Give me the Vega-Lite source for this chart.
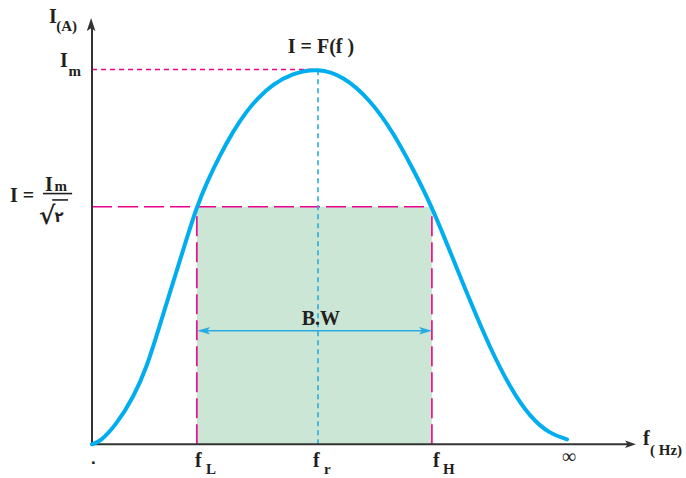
{
  "$schema": "https://vega.github.io/schema/vega-lite/v6.json",
  "width": 686,
  "height": 478,
  "padding": 0,
  "autosize": {"type": "fit", "contains": "padding"},
  "background": "white",
  "config": {"view": {"stroke": null}},
  "datasets": {
    "curve": [
      {"f": 0, "I": 0}, {"f": 3.54, "I": 0.6}, {"f": 10.93, "I": 5.38}, {"f": 18.27, "I": 12.47},
      {"f": 24.2, "I": 20.42}, {"f": 30.09, "I": 31.91}, {"f": 35.97, "I": 43.42}, {"f": 41.9, "I": 54.9},
      {"f": 46.4, "I": 63.4}, {"f": 50.75, "I": 69.8}, {"f": 56.64, "I": 77.2}, {"f": 62.52, "I": 83.63},
      {"f": 68.45, "I": 88.94}, {"f": 73.58, "I": 92.49}, {"f": 79.6, "I": 95.9}, {"f": 88.5, "I": 99.0},
      {"f": 100, "I": 100.4}, {"f": 111.1, "I": 98.3}, {"f": 123.0, "I": 92.0}, {"f": 133.2, "I": 83.3},
      {"f": 142.0, "I": 73.5}, {"f": 150.4, "I": 63.4}, {"f": 158.4, "I": 51.5}, {"f": 167.3, "I": 38.2},
      {"f": 176.1, "I": 25.7}, {"f": 185.0, "I": 15.1}, {"f": 193.8, "I": 7.2}, {"f": 202.7, "I": 2.7},
      {"f": 210.2, "I": 1.3}
    ],
    "band": [{"f1": 46.4, "f2": 150.4, "I1": 0, "I2": 63.4}],
    "imLine": [{"f1": 0, "f2": 100, "I1": 100, "I2": 100}],
    "halfLines": [
      {"f1": 0, "f2": 150.4, "I1": 63.4, "I2": 63.4},
      {"f1": 46.4, "f2": 46.4, "I1": 0, "I2": 63.4},
      {"f1": 150.4, "f2": 150.4, "I1": 0, "I2": 63.4}
    ],
    "frLine": [{"f1": 100, "f2": 100, "I1": 0, "I2": 100}],
    "axes": [
      {"f1": 0, "f2": 238.5, "I1": 0, "I2": 0},
      {"f1": 0, "f2": 0, "I1": 0, "I2": 112}
    ],
    "bw": [{"f1": 49.4, "f2": 147.6, "I1": 30.3, "I2": 30.3}],
    "bwHeads": [{"f": 49.4, "I": 30.3, "dir": "left"}, {"f": 147.6, "I": 30.3, "dir": "right"}],
    "yHead": [{"f": -0.4, "I": 112.0}],
    "xHead": [{"f": 238.3, "I": 0}],
    "fracBars": [
      {"f1": -21.7, "f2": -8.8, "I1": 66.9, "I2": 66.9},
      {"f1": -17.6, "f2": -10.6, "I1": 65.2, "I2": 65.2}
    ],
    "bigText": [
      {"t": "I", "f": -19.0, "I": 112.5},
      {"t": "I", "f": -14.2, "I": 100.8},
      {"t": "I =", "f": -36.3, "I": 64.7},
      {"t": "I", "f": -20.8, "I": 67.6},
      {"t": "f", "f": 45.6, "I": -6.1},
      {"t": "f", "f": 97.8, "I": -6.1},
      {"t": "f", "f": 150.9, "I": -6.1},
      {"t": "f", "f": 243.8, "I": -0.3}
    ],
    "rootText": [{"t": "√", "f": -23.4, "I": 58.8}],
    "centerText": [
      {"t": "I = F(f )", "f": 101.3, "I": 104.5},
      {"t": "B.W", "f": 101.3, "I": 31.8}
    ],
    "smallText": [
      {"t": "(A)", "f": -15.8, "I": 110.3},
      {"t": "m", "f": -10.4, "I": 98.4},
      {"t": "m", "f": -16.6, "I": 67.6},
      {"t": "L", "f": 50.4, "I": -8.0},
      {"t": "r", "f": 102.7, "I": -8.0},
      {"t": "H", "f": 155.3, "I": -8.0},
      {"t": "( Hz)", "f": 246.9, "I": -2.9}
    ],
    "persian": [
      {"t": "۲", "f": -16.6, "I": 59.4},
      {"t": "۰", "f": -1.4, "I": -6.0}
    ],
    "infText": [{"t": "∞", "f": 211.0, "I": -5.0}]
  },
  "layer": [
    {
      "data": {"name": "band"},
      "mark": {"type": "rect", "color": "#cce6d5"},
      "encoding": {
        "x": {"field": "f1", "type": "quantitative", "axis": null, "scale": {"domain": [-40.71, 262.83], "nice": false, "zero": false}},
        "x2": {"field": "f2"},
        "y": {"field": "I1", "type": "quantitative", "axis": null, "scale": {"domain": [-8.22, 118.57], "nice": false, "zero": false}},
        "y2": {"field": "I2"}
      }
    },
    {
      "data": {"name": "imLine"},
      "mark": {"type": "rule", "color": "#ec008c", "strokeWidth": 1.5, "strokeDash": [5, 4]},
      "encoding": {
        "x": {"field": "f1", "type": "quantitative"}, "x2": {"field": "f2"},
        "y": {"field": "I1", "type": "quantitative"}, "y2": {"field": "I2"}
      }
    },
    {
      "data": {"name": "halfLines"},
      "mark": {"type": "rule", "color": "#ec008c", "strokeWidth": 1.6, "strokeDash": [20, 6]},
      "encoding": {
        "x": {"field": "f1", "type": "quantitative"}, "x2": {"field": "f2"},
        "y": {"field": "I1", "type": "quantitative"}, "y2": {"field": "I2"}
      }
    },
    {
      "data": {"name": "frLine"},
      "mark": {"type": "rule", "color": "#29abe2", "strokeWidth": 1.6, "strokeDash": [5, 4]},
      "encoding": {
        "x": {"field": "f1", "type": "quantitative"}, "x2": {"field": "f2"},
        "y": {"field": "I1", "type": "quantitative"}, "y2": {"field": "I2"}
      }
    },
    {
      "data": {"name": "bw"},
      "mark": {"type": "rule", "color": "#29abe2", "strokeWidth": 1.6},
      "encoding": {
        "x": {"field": "f1", "type": "quantitative"}, "x2": {"field": "f2"},
        "y": {"field": "I1", "type": "quantitative"}, "y2": {"field": "I2"}
      }
    },
    {
      "data": {"name": "bwHeads"},
      "mark": {"type": "point", "filled": true, "color": "#29abe2", "opacity": 1, "size": 169, "strokeWidth": 0},
      "encoding": {
        "x": {"field": "f", "type": "quantitative"},
        "y": {"field": "I", "type": "quantitative"},
        "shape": {"field": "dir", "type": "nominal", "legend": null,
          "scale": {"domain": ["left", "right"], "range": ["M-1,0L1,0.57L0.55,0L1,-0.57Z", "M1,0L-1,0.57L-0.55,0L-1,-0.57Z"]}}
      }
    },
    {
      "data": {"name": "axes"},
      "mark": {"type": "rule", "color": "#333333", "strokeWidth": 2},
      "encoding": {
        "x": {"field": "f1", "type": "quantitative"}, "x2": {"field": "f2"},
        "y": {"field": "I1", "type": "quantitative"}, "y2": {"field": "I2"}
      }
    },
    {
      "data": {"name": "yHead"},
      "mark": {"type": "point", "filled": true, "color": "#333333", "opacity": 1, "size": 169, "strokeWidth": 0, "shape": "M0,-1L0.66,1L0,0.55L-0.66,1Z"},
      "encoding": {
        "x": {"field": "f", "type": "quantitative"},
        "y": {"field": "I", "type": "quantitative"}
      }
    },
    {
      "data": {"name": "xHead"},
      "mark": {"type": "point", "filled": true, "color": "#333333", "opacity": 1, "size": 121, "strokeWidth": 0, "shape": "M1,0L-1,0.69L-0.55,0L-1,-0.69Z"},
      "encoding": {
        "x": {"field": "f", "type": "quantitative"},
        "y": {"field": "I", "type": "quantitative"}
      }
    },
    {
      "data": {"name": "curve"},
      "mark": {"type": "line", "color": "#00aeef", "strokeWidth": 4, "interpolate": "basis", "strokeCap": "round"},
      "encoding": {
        "x": {"field": "f", "type": "quantitative"},
        "y": {"field": "I", "type": "quantitative"}
      }
    },
    {
      "data": {"name": "fracBars"},
      "mark": {"type": "rule", "color": "#231f20", "strokeWidth": 1.6},
      "encoding": {
        "x": {"field": "f1", "type": "quantitative"}, "x2": {"field": "f2"},
        "y": {"field": "I1", "type": "quantitative"}, "y2": {"field": "I2"}
      }
    },
    {
      "data": {"name": "bigText"},
      "mark": {"type": "text", "font": "Liberation Serif", "fontWeight": "bold", "fontSize": 20, "align": "left", "baseline": "alphabetic", "color": "#231f20"},
      "encoding": {
        "x": {"field": "f", "type": "quantitative"},
        "y": {"field": "I", "type": "quantitative"},
        "text": {"field": "t"}
      }
    },
    {
      "data": {"name": "rootText"},
      "mark": {"type": "text", "font": "DejaVu Serif", "fontWeight": "bold", "fontSize": 25, "align": "left", "baseline": "alphabetic", "color": "#231f20"},
      "encoding": {
        "x": {"field": "f", "type": "quantitative"},
        "y": {"field": "I", "type": "quantitative"},
        "text": {"field": "t"}
      }
    },
    {
      "data": {"name": "centerText"},
      "mark": {"type": "text", "font": "Liberation Serif", "fontWeight": "bold", "fontSize": 20, "align": "center", "baseline": "alphabetic", "color": "#231f20"},
      "encoding": {
        "x": {"field": "f", "type": "quantitative"},
        "y": {"field": "I", "type": "quantitative"},
        "text": {"field": "t"}
      }
    },
    {
      "data": {"name": "smallText"},
      "mark": {"type": "text", "font": "Liberation Serif", "fontWeight": "bold", "fontSize": 15, "align": "left", "baseline": "alphabetic", "color": "#231f20"},
      "encoding": {
        "x": {"field": "f", "type": "quantitative"},
        "y": {"field": "I", "type": "quantitative"},
        "text": {"field": "t"}
      }
    },
    {
      "data": {"name": "persian"},
      "mark": {"type": "text", "font": "DejaVu Sans", "fontWeight": "bold", "fontSize": 15, "align": "left", "baseline": "alphabetic", "color": "#231f20"},
      "encoding": {
        "x": {"field": "f", "type": "quantitative"},
        "y": {"field": "I", "type": "quantitative"},
        "text": {"field": "t"}
      }
    },
    {
      "data": {"name": "infText"},
      "mark": {"type": "text", "font": "Liberation Serif", "fontSize": 20, "align": "center", "baseline": "alphabetic", "color": "#231f20"},
      "encoding": {
        "x": {"field": "f", "type": "quantitative"},
        "y": {"field": "I", "type": "quantitative"},
        "text": {"field": "t"}
      }
    }
  ]
}
